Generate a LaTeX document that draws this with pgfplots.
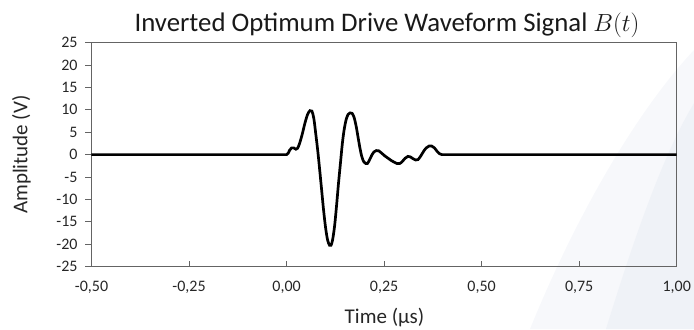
\documentclass[border=0pt]{standalone}
\usepackage{fontspec}
\setmainfont{Carlito}
\usepackage{pgfplots}
\pgfplotsset{compat=1.18}
\definecolor{axgray}{RGB}{100,100,100}
\definecolor{wmA}{RGB}{239,242,247}
\definecolor{wmB}{RGB}{247,248,251}
\begin{document}
\begin{tikzpicture}[x=1bp,y=1bp]
\path[use as bounding box] (-91.5,-62.3) rectangle (602.5,266.7);
% faint background watermark
\fill[wmB] (438.5,-62.3) .. controls (480,40) and (540,150) .. (602.5,216.7) -- (602.5,-62.3) -- cycle;
\fill[wmA] (514.5,-62.3) .. controls (540,20) and (570,110) .. (602.5,163.4) -- (602.5,-62.3) -- cycle;
\begin{axis}[
  at={(0,0)}, anchor=south west,
  scale only axis, width=585.2bp, height=224.2bp,
  xmin=-0.5, xmax=1.0, ymin=-25, ymax=25,
  xtick={-0.5,-0.25,0,0.25,0.5,0.75,1.0},
  ytick={-25,-20,...,25},
  xticklabel style={/pgf/number format/fixed, /pgf/number format/fixed zerofill, /pgf/number format/precision=2, /pgf/number format/use comma, /pgf/number format/assume math mode=true, /tikz/yshift=-10.5bp},
  yticklabel style={/pgf/number format/assume math mode=true, /tikz/xshift=-4.5bp},
  ticklabel style={font=\fontsize{16bp}{19bp}\selectfont, text=black!85},
  xtick pos=bottom, ytick pos=left,
  xtick align=inside, ytick align=outside,
  major tick length=6bp,
  axis line style={axgray, line width=0.8bp},
  every tick/.style={axgray, line width=0.8bp},
  clip=false,
]
\addplot[black, line width=2.7bp, smooth, tension=0.5] coordinates {
(-0.5,0) (-0.25,0) (-0.05,0) (-0.02,0) (-0.008,0) (0.000,0) (0.004,0.3) (0.008,1.0) (0.013,1.5) (0.018,1.5) (0.024,1.2)
(0.028,1.4) (0.033,2.4) (0.040,4.5) (0.047,7.0) (0.054,9.0) (0.060,9.8)
(0.065,9.7) (0.070,8.0) (0.075,4.5) (0.080,0.8) (0.085,-3.5) (0.090,-8.0)
(0.095,-12.5) (0.100,-16.3) (0.105,-19.0) (0.110,-20.2) (0.114,-20.2)
(0.118,-19.0) (0.123,-16.0) (0.128,-11.5) (0.133,-6.5) (0.138,-2.0)
(0.143,2.5) (0.148,5.8) (0.153,7.9) (0.158,9.0) (0.163,9.3) (0.168,9.2)
(0.173,8.3) (0.178,6.5) (0.183,4.0) (0.188,1.5) (0.193,-0.5) (0.198,-1.6)
(0.203,-2.0) (0.207,-2.0) (0.212,-1.3) (0.218,-0.2) (0.224,0.6) (0.230,0.9)
(0.236,0.85) (0.244,0.3) (0.252,-0.3) (0.260,-0.8) (0.268,-1.3) (0.276,-1.7)
(0.283,-2.0) (0.290,-2.0) (0.297,-1.5) (0.304,-0.8) (0.311,-0.4) (0.317,-0.5)
(0.324,-0.9) (0.331,-1.2) (0.337,-1.1) (0.344,-0.3) (0.351,0.7) (0.358,1.5)
(0.365,1.9) (0.372,1.9) (0.379,1.5) (0.386,0.7) (0.392,0.2) (0.398,0.0)
(0.406,0) (0.42,0) (0.45,0) (0.6,0) (0.8,0) (1.0,0)
};
\end{axis}
\node[anchor=base, font=\fontsize{26.8bp}{30bp}\selectfont, text=black!90] at (295.5,235) {Inverted Optimum Drive Waveform Signal $B(t)$};
\node[anchor=base, font=\fontsize{21bp}{24bp}\selectfont, text=black!85] at (293,-56.6) {Time (µs)};
\node[rotate=90, font=\fontsize{21bp}{24bp}\selectfont, text=black!85] at (-70,112.1) {Amplitude (V)};
\end{tikzpicture}
\end{document}
